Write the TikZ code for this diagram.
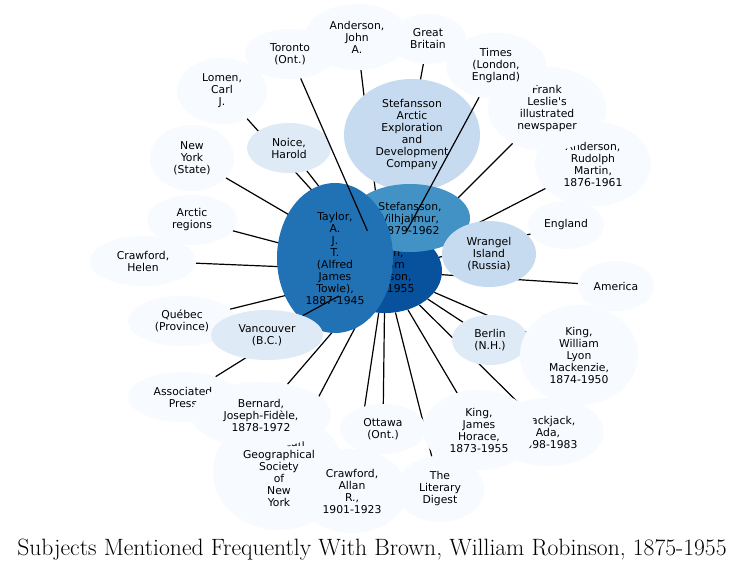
\documentclass[tikz,border=0pt]{standalone}
\usepackage{fontspec}
\newfontfamily\nodefont{DejaVu Sans}
\usetikzlibrary{shapes.geometric}
\definecolor{cA}{HTML}{08519C}
\definecolor{cB}{HTML}{2171B5}
\definecolor{cC}{HTML}{4292C6}
\definecolor{cD}{HTML}{C6DBEF}
\definecolor{cE}{HTML}{DEEBF7}
\definecolor{cL}{HTML}{F7FBFF}
\pgfdeclarelayer{bg}
\pgfdeclarelayer{edges}
\pgfsetlayers{bg,edges,main}
\begin{document}
\begin{tikzpicture}[x=1pt,y=-1pt,
  bub/.style={ellipse, inner sep=0pt, align=center, draw=none,
    font=\nodefont\fontsize{10.8}{12}\selectfont},
  sz/.style 2 args={minimum width=#1*2pt, minimum height=#2*2pt},
  link/.style={draw=black, line width=1.2pt}]
\useasboundingbox (0,0) rectangle (745,570);
\begin{pgfonlayer}{bg}
\fill[white] (0,0) rectangle (745,570);
\end{pgfonlayer}

\node[bub, fill=cA, sz={57}{42}] (brown) at (385,271) {Brown,\\William\\Robinson,\\1875-1955};
\node[bub, fill=cD, sz={68}{56}] (sac) at (412,135) {Stefansson\\Arctic\\Exploration\\and\\Development\\Company};
\node[bub, fill=cC, sz={60}{34}] (stefv) at (410,218) {Stefansson,\\Vilhjalmur,\\1879-1962};
\node[bub, fill=cB, sz={58}{75}] (taylor) at (335,258) {Taylor,\\A.\\J.\\T.\\(Alfred\\James\\Towle),\\1887-1945};
\node[bub, fill=cD, sz={47}{33}] (wrangel) at (489,254) {Wrangel\\Island\\(Russia)};
\node[bub, fill=cE, sz={42}{25}] (noice) at (289,148) {Noice,\\Harold};
\node[bub, fill=cL, sz={54}{25}] (quebec) at (182,321) {Québec\\(Province)};
\node[bub, fill=cE, sz={56}{25}] (vancouver) at (267,335) {Vancouver\\(B.C.)};
\node[bub, fill=cE, sz={38}{25}] (berlin) at (490,340) {Berlin\\(N.H.)};
\node[bub, fill=cL, sz={59}{50}] (kingw) at (579,355) {King,\\William\\Lyon\\Mackenzie,\\1874-1950};
\node[bub, fill=cL, sz={52}{33}] (andj) at (357,37) {Anderson,\\John\\A.};
\node[bub, fill=cL, sz={45}{25}] (toronto) at (290,54) {Toronto\\(Ont.)};
\node[bub, fill=cL, sz={38}{25}] (gb) at (428,39) {Great\\Britain};
\node[bub, fill=cL, sz={58}{42}] (andr) at (593,164) {Anderson,\\Rudolph\\Martin,\\1876-1961};
\node[bub, fill=cL, sz={59}{42}] (frank) at (547,109) {Frank\\Leslie's\\illustrated\\newspaper};
\node[bub, fill=cL, sz={50}{33}] (times) at (496,66) {Times\\(London,\\England)};
\node[bub, fill=cL, sz={38}{24}] (england) at (566,225) {England};
\node[bub, fill=cL, sz={38}{25}] (america) at (616,286) {America};
\node[bub, fill=cL, sz={56}{34}] (blackjack) at (548,432) {Blackjack,\\Ada,\\1898-1983};
\node[bub, fill=cL, sz={56}{40}] (kingj) at (479,430) {King,\\James\\Horace,\\1873-1955};
\node[bub, fill=cL, sz={43}{25}] (ottawa) at (383,429) {Ottawa\\(Ont.)};
\node[bub, fill=cL, sz={44}{33}] (literary) at (440,489) {The\\Literary\\Digest};
\node[bub, fill=cL, sz={66}{58}] (amgeo) at (279,472) {American\\Geographical\\Society\\of\\New\\York};
\node[bub, fill=cL, sz={55}{42}] (crawa) at (352,491) {Crawford,\\Allan\\R.,\\1901-1923};
\node[bub, fill=cL, sz={55}{25}] (ap) at (183,397) {Associated\\Press};
\node[bub, fill=cL, sz={70}{33}] (bernard) at (261,415) {Bernard,\\Joseph-Fidèle,\\1878-1972};
\node[bub, fill=cL, sz={53}{25}] (helen) at (143,261) {Crawford,\\Helen};
\node[bub, fill=cL, sz={45}{25}] (arctic) at (192,220) {Arctic\\regions};
\node[bub, fill=cL, sz={42}{33}] (nystate) at (192,158) {New\\York\\(State)};
\node[bub, fill=cL, sz={45}{33}] (lomen) at (222,91) {Lomen,\\Carl\\J.};

\begin{pgfonlayer}{edges}
\foreach \t in {noice,quebec,berlin,kingw,andj,gb,andr,frank,england,america,
  blackjack,kingj,ottawa,literary,amgeo,crawa,ap,bernard,helen,arctic,nystate,lomen}
  \draw[link] (brown) -- (\t);
\end{pgfonlayer}

\draw[link] (brown) -- (toronto);
\draw[link] (brown) -- (times);
\draw[link] (brown) -- (vancouver);

\node[anchor=base, font=\fontsize{23.6}{28}\selectfont, inner sep=0pt] (title) at (372,555)
  {Subjects Mentioned Frequently With Brown, William Robinson, 1875-1955};
\end{tikzpicture}
\end{document}
